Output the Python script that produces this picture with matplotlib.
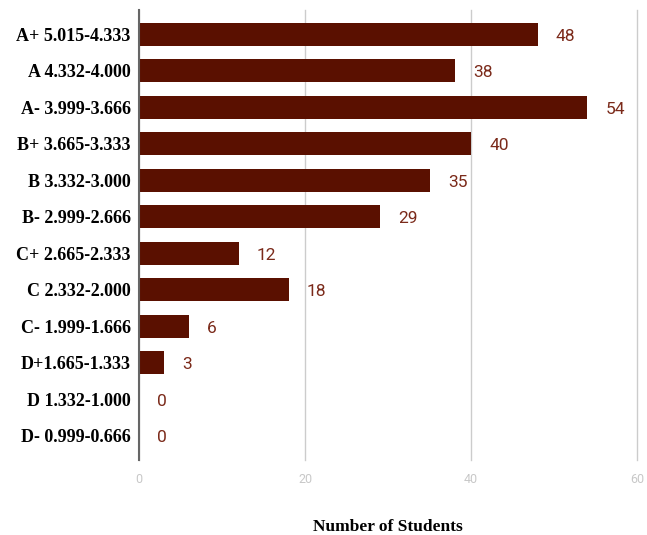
import matplotlib.pyplot as plt
import numpy as np

categories = ['A+ 5.015-4.333', 'A 4.332-4.000', 'A- 3.999-3.666', 'B+ 3.665-3.333',
              'B 3.332-3.000', 'B- 2.999-2.666', 'C+ 2.665-2.333', 'C 2.332-2.000',
              'C- 1.999-1.666', 'D+1.665-1.333', 'D 1.332-1.000', 'D- 0.999-0.666']
counts = [48, 38, 54, 40, 35, 29, 12, 18, 6, 3, 0, 0]
xticks = [0, 20, 40, 60]

fig = plt.figure(figsize=(6.47, 5.35), dpi=100)
ax = fig.add_axes([0.215, 0.14, 0.77, 0.841])

y = np.arange(len(categories))
ax.barh(y, counts, height=0.63, color='#5a1000', zorder=3)
for yi, c in zip(y, counts):
    ax.text(c + 2.2, yi + 0.05, str(c), va='center', ha='left', color='#7b2a1a',
            fontsize=12.5, family='Roboto')

ax.set_ylim(11.66, -0.66)
ax.set_xlim(0, 60)
ax.set_yticks(y)
ax.set_yticklabels(categories, family='Liberation Serif', fontweight='bold', fontsize=13)
ax.set_xticks(xticks)
ax.set_xticklabels([str(t) for t in xticks], color='#c8c8c8', fontsize=9, family='Roboto')
ax.tick_params(axis='both', length=0)
ax.tick_params(axis='x', pad=9)
ax.tick_params(axis='y', pad=6)
ax.grid(axis='x', color='#cccccc', linewidth=1, zorder=0, clip_on=False)
for s in ['top', 'right', 'bottom']:
    ax.spines[s].set_visible(False)
ax.spines['left'].set_color('#666666')
ax.spines['left'].set_linewidth(1.5)
ax.spines['left'].set_zorder(4)
ax.set_xlabel('Number of Students', family='Liberation Serif', fontweight='bold',
              fontsize=12.5, va='center')
ax.xaxis.set_label_coords(0.5, -0.149)

plt.savefig('out.png', dpi=100)
